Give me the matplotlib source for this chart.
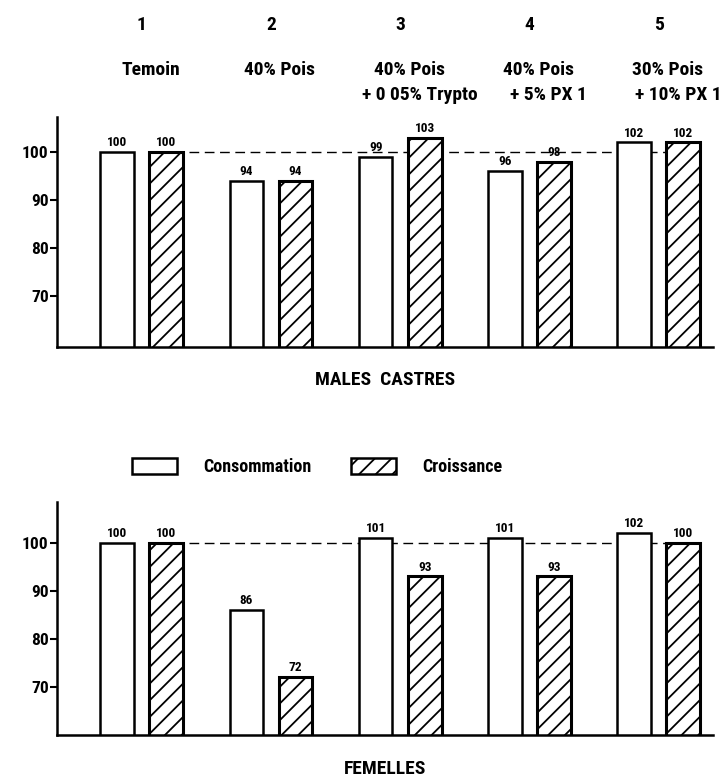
import matplotlib
matplotlib.use("Agg")
import matplotlib.pyplot as plt
from matplotlib import font_manager
import numpy as np
from matplotlib.patches import Patch
from matplotlib.transforms import blended_transform_factory

installed = {f.name for f in font_manager.fontManager.ttflist}
narrow = [n for n in ("Roboto Condensed", "Liberation Sans Narrow",
                      "DejaVu Sans Condensed", "Open Sans Condensed") if n in installed]
plt.rcParams['font.family'] = narrow + ['Liberation Sans', 'DejaVu Sans']
plt.rcParams['font.weight'] = 'bold'
plt.rcParams['hatch.linewidth'] = 1.3

# data
groups = ["1", "2", "3", "4", "5"]
names_1 = ["Temoin", "40% Pois", "40% Pois", "40% Pois", "30% Pois"]
names_2 = ["", "", "+ 0 05% Trypto", "+ 5% PX 1", "+ 10% PX 1"]
males_cons = [100, 94, 99, 96, 102]
males_crois = [100, 94, 103, 98, 102]
fem_cons = [100, 86, 101, 101, 102]
fem_crois = [100, 72, 93, 93, 100]
yticks = [70, 80, 90, 100]

x = np.arange(1, len(groups) + 1)
width = 0.26
off = 0.19
hfs = 14 if narrow else 11

fig = plt.figure(figsize=(7.2, 7.78), dpi=100)
ax1 = fig.add_axes([57 / 720, (778 - 347) / 778, 656 / 720, 230 / 778])
ax2 = fig.add_axes([57 / 720, (778 - 735) / 778, 656 / 720, 233 / 778])


def draw_panel(ax, cons, crois, ylim, title):
    ax.plot([x[0] + off + width / 2 + 0.05, x[-1] + off - width / 2],
            [100, 100], color="black", lw=1.0, dashes=(7, 4), zorder=1)
    b1 = ax.bar(x - off, cons, width, bottom=0, facecolor="white",
                edgecolor="black", lw=1.8, zorder=2)
    b2 = ax.bar(x + off, crois, width, bottom=0, facecolor="white",
                edgecolor="black", lw=2.2, hatch="//", zorder=2)
    for bars, vals in ((b1, cons), (b2, crois)):
        for r, v in zip(bars, vals):
            ax.text(r.get_x() + r.get_width() / 2, v + 0.6, str(v),
                    ha="center", va="bottom", fontsize=9.5, fontweight="bold")
    ax.set_xlim(0.345, 5.42)
    ax.set_ylim(*ylim)
    ax.set_yticks(yticks)
    ax.set_xticks([])
    for s in ("top", "right"):
        ax.spines[s].set_visible(False)
    for s in ("left", "bottom"):
        ax.spines[s].set_linewidth(1.8)
    ax.tick_params(axis="y", direction="out", length=5, width=1.5,
                   labelsize=12.5, pad=1)
    for lab in ax.get_yticklabels():
        lab.set_fontweight("bold")
    ax.text(0.5, -0.145, title, transform=ax.transAxes, ha="center",
            va="center", fontsize=hfs, fontweight="bold")


draw_panel(ax1, males_cons, males_crois, (59.3, 107.3), "MALES  CASTRES")
draw_panel(ax2, fem_cons, fem_crois, (60, 108.5), "FEMELLES")

# header above the top panel
tr = blended_transform_factory(ax1.transData, fig.transFigure)
for xi, g, n1, n2 in zip(x, groups, names_1, names_2):
    fig.text(xi, 1 - 25 / 778, g, transform=tr, ha="center", va="center",
             fontsize=14, fontweight="bold")
    fig.text(xi + 0.07, 1 - 70 / 778, n1, transform=tr, ha="center",
             va="center", fontsize=hfs, fontweight="bold")
    if n2:
        fig.text(xi + 0.15, 1 - 95 / 778, n2, transform=tr, ha="center",
                 va="center", fontsize=hfs, fontweight="bold")

handles = [Patch(facecolor="white", edgecolor="black", lw=1.8),
           Patch(facecolor="white", edgecolor="black", lw=1.8, hatch="//")]
fig.legend(handles, ["Consommation", "Croissance"], ncol=2, frameon=False,
           loc="center left", bbox_to_anchor=(132 / 720, 1 - 467 / 778),
           borderpad=0, borderaxespad=0, handlelength=2.5, handleheight=0.95,
           handletextpad=1.45, columnspacing=2.2,
           prop={"size": 13, "weight": "bold"})

fig.savefig("out.png", dpi=100)
